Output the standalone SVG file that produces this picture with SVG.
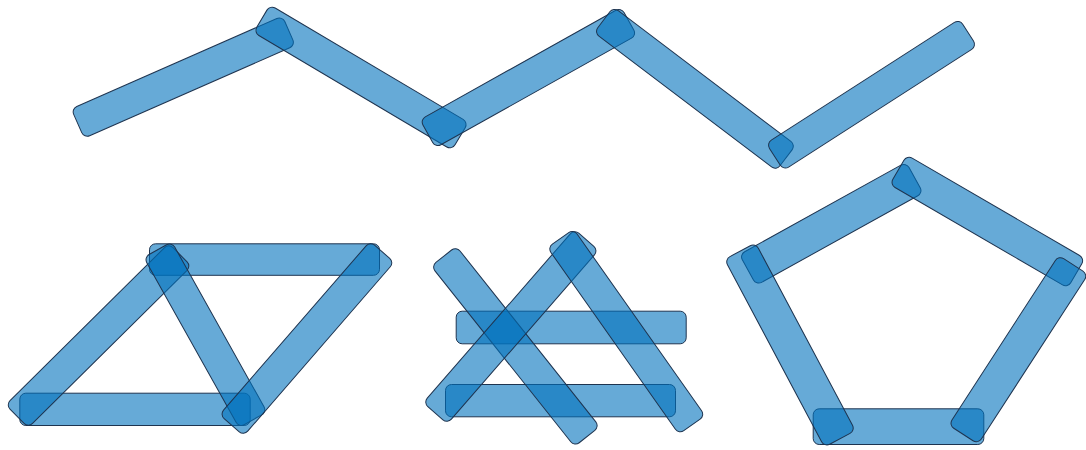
<svg xmlns="http://www.w3.org/2000/svg" width="1086" height="450" viewBox="0 0 1086 450">
<style>
rect.bar{fill:#0072bd;fill-opacity:0.6;stroke:#1e3450;stroke-width:1}
</style>
<rect x="0" y="0" width="1086" height="450" fill="#ffffff"/>
<g id="zigzag">
<rect class="bar" x="-2.5" y="-16" width="230.6" height="32" rx="6" transform="translate(80,122.5) rotate(-23.73)"/>
<rect class="bar" x="-2.5" y="-16" width="230.5" height="32" rx="6" transform="translate(264,20) rotate(30.66)"/>
<rect class="bar" x="-2.5" y="-16" width="230.4" height="32" rx="6" transform="translate(430,132.5) rotate(-29.21)"/>
<rect class="bar" x="-2.5" y="-16" width="228.6" height="32" rx="6" transform="translate(605.8,21.3) rotate(37.15)"/>
<rect class="bar" x="-2.5" y="-16" width="229.7" height="32" rx="6" transform="translate(777,155.5) rotate(-32.74)"/>
</g>
<g id="parallelogram">
<rect class="bar" x="149.5" y="243.8" width="230" height="31.5" rx="6"/>
<rect class="bar" x="19.8" y="393.2" width="230.4" height="32.3" rx="6"/>
<rect class="bar" x="-2.5" y="-16" width="229.5" height="32" rx="6" transform="translate(18.8,414.5) rotate(-44.73)"/>
<rect class="bar" x="-2" y="-16" width="194.9" height="32" rx="6" transform="translate(158.8,251.4) rotate(60.78)"/>
<rect class="bar" x="-2" y="-16" width="229.6" height="32" rx="6" transform="translate(233,423.7) rotate(-49.06)"/>
</g>
<g id="crossed">
<rect class="bar" x="456.2" y="311.2" width="230" height="32.6" rx="6"/>
<rect class="bar" x="445.5" y="384.5" width="230" height="32.3" rx="6"/>
<rect class="bar" x="-2" y="-16" width="230.3" height="32" rx="6" transform="translate(445,257.8) rotate(51.53)"/>
<rect class="bar" x="-2" y="-16" width="229.9" height="32" rx="6" transform="translate(436.7,411.7) rotate(-48.97)"/>
<rect class="bar" x="-2" y="-16" width="228.2" height="32" rx="6" transform="translate(561.7,240) rotate(54.84)"/>
</g>
<g id="pentagon">
<rect class="bar" x="813.2" y="408.8" width="170.6" height="35.7" rx="6"/>
<rect class="bar" x="-1.5" y="-17.5" width="190.6" height="35" rx="6" transform="translate(749.2,269.2) rotate(-28.98)"/>
<rect class="bar" x="-1.5" y="-17" width="205.8" height="34" rx="6" transform="translate(899.7,170.5) rotate(30.2)"/>
<rect class="bar" x="-1.5" y="-17.5" width="212.5" height="35" rx="6" transform="translate(740.8,252.5) rotate(62.0)"/>
<rect class="bar" x="-1.5" y="-17.5" width="202.1" height="35" rx="6" transform="translate(1072.5,266.2) rotate(122.95)"/>
</g>
</svg>
